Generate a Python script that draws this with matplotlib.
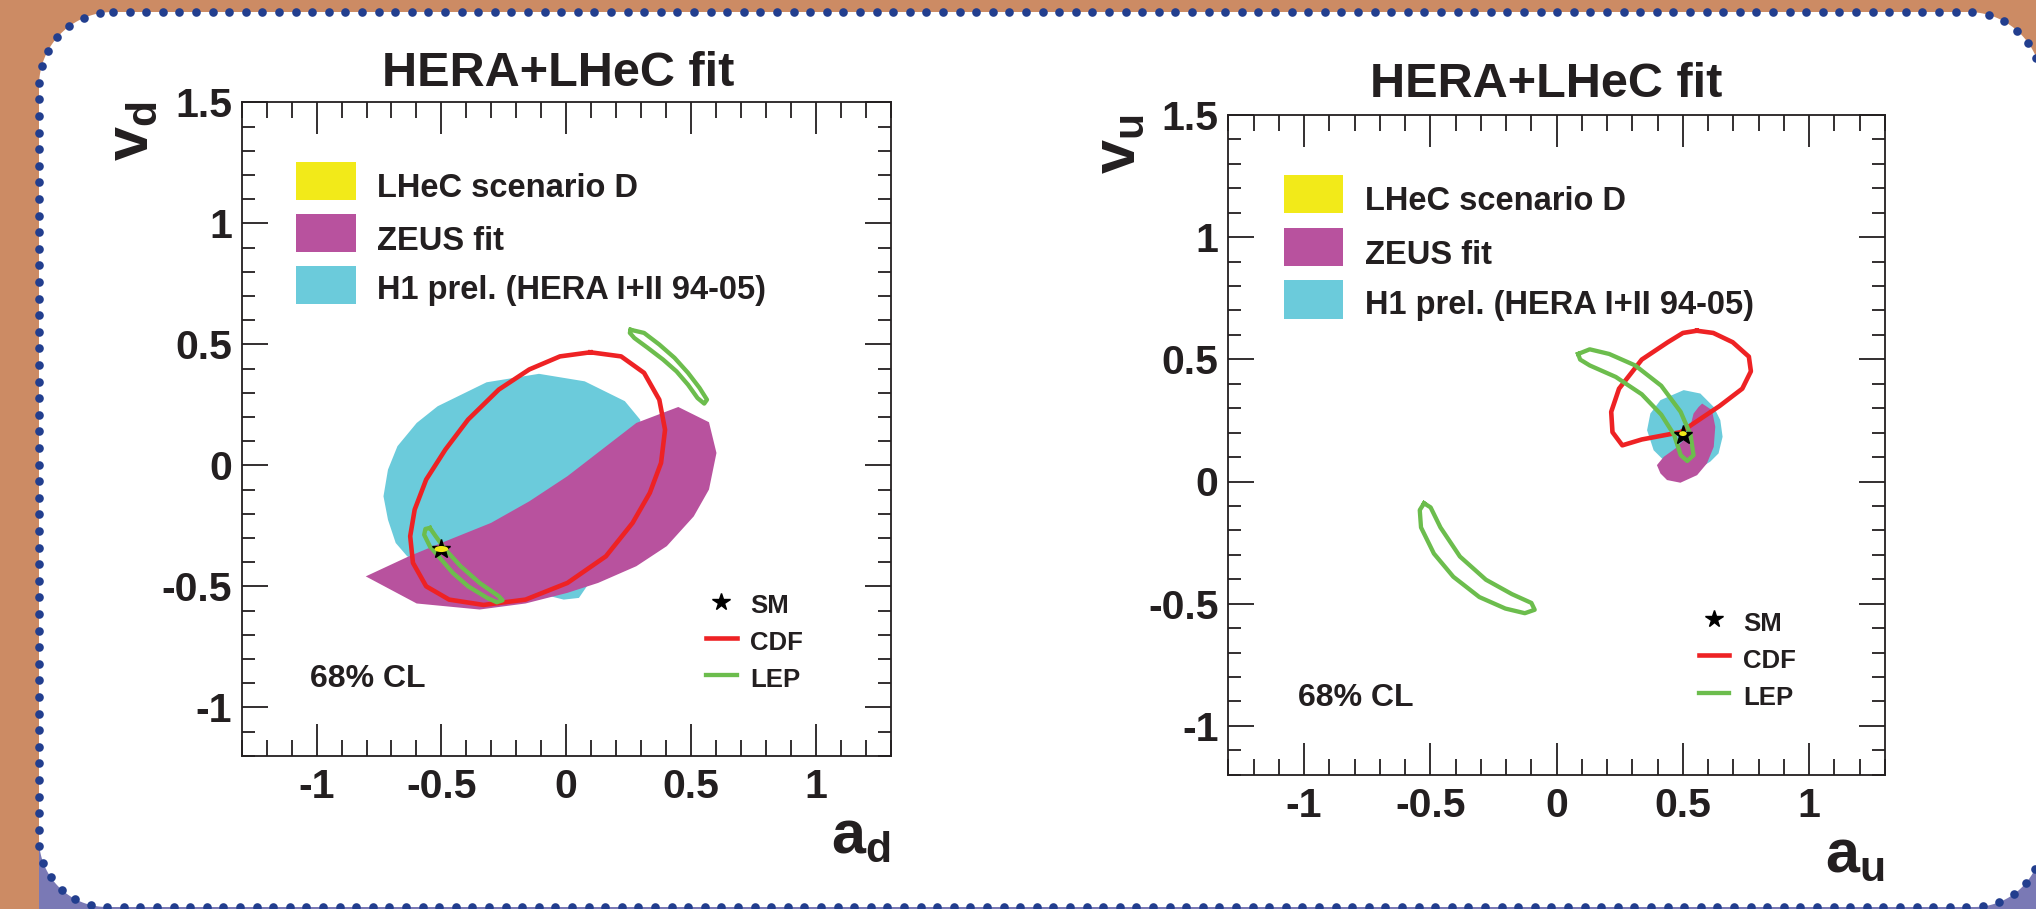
import matplotlib
matplotlib.use('Agg')
import matplotlib.pyplot as plt
from matplotlib.patches import Polygon, Rectangle, Ellipse
from matplotlib.lines import Line2D
from matplotlib.ticker import MultipleLocator, FixedLocator, FixedFormatter
from matplotlib.transforms import Affine2D
import numpy as np

plt.rcParams['font.family'] = ['Liberation Sans', 'DejaVu Sans']
plt.rcParams['font.weight'] = 'bold'
plt.rcParams['mathtext.fontset'] = 'custom'
plt.rcParams['mathtext.rm'] = 'Liberation Sans:bold'
plt.rcParams['mathtext.it'] = 'Liberation Sans:bold'
plt.rcParams['mathtext.bf'] = 'Liberation Sans:bold'

W, H = 2036, 909

# ---------------- data ----------------
titles = ["HERA+LHeC fit", "HERA+LHeC fit"]
xlabels = [r"$\mathrm{a_d}$", r"$\mathrm{a_u}$"]
ylabels = [r"$\mathrm{v_d}$", r"$\mathrm{v_u}$"]
legend_labels = ["LHeC scenario D", "ZEUS fit", "H1 prel. (HERA I+II 94-05)"]
small_labels = ["SM", "CDF", "LEP"]
cl_text = "68% CL"

xtick_vals = [-1, -0.5, 0, 0.5, 1]
xtick_labels = ["-1", "-0.5", "0", "0.5", "1"]
ytick_vals = [-1, -0.5, 0, 0.5, 1, 1.5]
ytick_labels = ["-1", "-0.5", "0", "0.5", "1", "1.5"]

# d-quark panel (a_d, v_d)
d_h1_x = [-0.319, -0.109, 0.074, 0.235, 0.296, 0.327, 0.220, 0.051, -0.010, -0.117,
          -0.393, -0.607, -0.637, -0.683, -0.714, -0.732, -0.714, -0.676, -0.599, -0.515]
d_h1_y = [0.343, 0.378, 0.347, 0.265, 0.189, -0.018, -0.293, -0.548, -0.555, -0.527,
          -0.431, -0.390, -0.376, -0.321, -0.225, -0.128, -0.018, 0.079, 0.175, 0.244]
d_zeus_x = [-0.803, -0.630, -0.484, -0.301, -0.148, 0.005, 0.143, 0.281, 0.449, 0.572,
            0.602, 0.572, 0.511, 0.403, 0.281, 0.128, 0.005, -0.163, -0.347, -0.599]
d_zeus_y = [-0.459, -0.376, -0.314, -0.238, -0.149, -0.045, 0.065, 0.175, 0.241, 0.178,
            0.051, -0.100, -0.211, -0.334, -0.417, -0.486, -0.527, -0.571, -0.596, -0.571]
d_cdf_x = [0.097, 0.220, 0.312, 0.373, 0.396, 0.380, 0.335, 0.266, 0.159, 0.005, -0.163,
           -0.331, -0.469, -0.561, -0.614, -0.625, -0.607, -0.561, -0.484, -0.393, -0.270,
           -0.148, -0.025]
d_cdf_y = [0.467, 0.450, 0.382, 0.271, 0.147, 0.010, -0.114, -0.238, -0.376, -0.486, -0.555,
           -0.577, -0.555, -0.500, -0.403, -0.293, -0.183, -0.059, 0.065, 0.189, 0.313,
           0.396, 0.450]
d_lep1_x = [0.258, 0.312, 0.373, 0.434, 0.488, 0.534, 0.564, 0.553, 0.526, 0.488, 0.442,
            0.388, 0.327, 0.273, 0.255]
d_lep1_y = [0.560, 0.547, 0.499, 0.444, 0.382, 0.320, 0.271, 0.255, 0.278, 0.333, 0.388,
            0.437, 0.485, 0.526, 0.547]
d_lep2_x = [-0.546, -0.523, -0.484, -0.423, -0.347, -0.270, -0.255, -0.278, -0.316, -0.393,
            -0.454, -0.500, -0.546, -0.569, -0.564]
d_lep2_y = [-0.259, -0.293, -0.348, -0.417, -0.486, -0.541, -0.558, -0.566, -0.548, -0.500,
            -0.445, -0.390, -0.335, -0.287, -0.263]
d_sm = (-0.5, -0.346)
d_lhec = (-0.50, -0.346, 0.055, 0.025)   # centre x, centre y, width, height

# u-quark panel (a_u, v_u)
u_h1_x = [0.358, 0.371, 0.411, 0.503, 0.569, 0.622, 0.648, 0.657, 0.641, 0.608, 0.529,
          0.424, 0.384]
u_h1_y = [0.210, 0.278, 0.333, 0.374, 0.360, 0.305, 0.251, 0.183, 0.115, 0.081, 0.033,
          0.087, 0.128]
u_zeus_x = [0.576, 0.615, 0.628, 0.622, 0.595, 0.556, 0.490, 0.437, 0.411, 0.397, 0.424,
            0.470, 0.503, 0.529, 0.542, 0.562]
u_zeus_y = [0.319, 0.292, 0.224, 0.142, 0.074, 0.026, -0.005, 0.006, 0.033, 0.067, 0.101,
            0.135, 0.169, 0.224, 0.278, 0.305]
u_cdf_x = [0.555, 0.620, 0.697, 0.761, 0.769, 0.735, 0.645, 0.491, 0.337, 0.260, 0.221,
           0.216, 0.247, 0.337, 0.440, 0.500]
u_cdf_y = [0.617, 0.608, 0.570, 0.511, 0.451, 0.380, 0.309, 0.202, 0.172, 0.148, 0.202,
           0.285, 0.380, 0.499, 0.570, 0.608]
u_lep1_x = [0.085, 0.131, 0.208, 0.311, 0.414, 0.491, 0.530, 0.542, 0.517, 0.491, 0.465,
            0.414, 0.337, 0.234, 0.131, 0.093]
u_lep1_y = [0.522, 0.541, 0.522, 0.475, 0.392, 0.285, 0.191, 0.108, 0.084, 0.108, 0.191,
            0.274, 0.357, 0.428, 0.475, 0.499]
u_lep2_x = [-0.525, -0.499, -0.460, -0.383, -0.280, -0.177, -0.100, -0.087, -0.126, -0.203,
            -0.306, -0.409, -0.486, -0.537, -0.542]
u_lep2_y = [-0.089, -0.106, -0.188, -0.307, -0.402, -0.461, -0.497, -0.525, -0.539, -0.520,
            -0.473, -0.390, -0.295, -0.188, -0.117]
u_sm = (0.5, 0.192)
u_lhec = (0.50, 0.196, 0.030, 0.020)

# ---------------- style ----------------
C_BG = '#CC8B64'
C_LAV = '#7A79B5'
C_DOT = '#223E8E'
C_TXT = '#231F20'
C_CYAN = '#6BCBDB'
C_MAG = '#B8529E'
C_YEL = '#F2EA19'
C_RED = '#EE2224'
C_GRN = '#6CBD4D'

fig = plt.figure(figsize=(W / 100, H / 100), dpi=100)
fig.patch.set_facecolor(C_BG)

# pixel transform (image coords, origin top-left)
pix = Affine2D().scale(1, -1).translate(0, H).scale(1.0 / W, 1.0 / H) + fig.transFigure

# decorative slide frame: white rounded box with dotted blue border
BX0, BY0, BX1, BY1, RT, RB = 39, 12, 2042, 907, 74, 68

def arc(cx, cy, r, a0, a1, n=40):
    t = np.radians(np.linspace(a0, a1, n))
    return np.column_stack([cx + r * np.cos(t), cy + r * np.sin(t)])

outline = np.vstack([
    [[BX0 + RT, BY0], [BX1 - RT, BY0]],
    arc(BX1 - RT, BY0 + RT, RT, -90, 0),
    [[BX1, BY1 - RB]],
    arc(BX1 - RB, BY1 - RB, RB, 0, 90),
    [[BX0 + RB, BY1]],
    arc(BX0 + RB, BY1 - RB, RB, 90, 180),
    [[BX0, BY0 + RT]],
    arc(BX0 + RT, BY0 + RT, RT, 180, 270),
])
seg = np.hypot(*np.diff(outline, axis=0).T)
cum = np.concatenate([[0], np.cumsum(seg)])
s_pts = np.arange(0, cum[-1], 16.6)
dots_x = np.interp(s_pts, cum, outline[:, 0])
dots_y = np.interp(s_pts, cum, outline[:, 1])

fig.add_artist(Rectangle((BX0, 780), W - BX0, 140, transform=pix, facecolor=C_LAV,
                         edgecolor='none', zorder=-3))
fig.add_artist(Polygon(outline, closed=True, transform=pix, facecolor='white',
                       edgecolor='none', zorder=-2))
fig.add_artist(Line2D(dots_x, dots_y, transform=pix, ls='none', marker='o', ms=6.2,
                      mfc=C_DOT, mec='none', zorder=-1))

panels = [
    dict(pos=[241.7, 102.3, 890.7, 755.7], h1=(d_h1_x, d_h1_y), zeus=(d_zeus_x, d_zeus_y),
         cdf=(d_cdf_x, d_cdf_y), leps=[(d_lep1_x, d_lep1_y), (d_lep2_x, d_lep2_y)],
         sm=d_sm, lhec=d_lhec, title_px=(558, 86), title=titles[0],
         xl=xlabels[0], yl=ylabels[0]),
    dict(pos=[1228.3, 115.0, 1885.0, 774.7], h1=(u_h1_x, u_h1_y), zeus=(u_zeus_x, u_zeus_y),
         cdf=(u_cdf_x, u_cdf_y), leps=[(u_lep1_x, u_lep1_y), (u_lep2_x, u_lep2_y)],
         sm=u_sm, lhec=u_lhec, title_px=(1546, 97), title=titles[1],
         xl=xlabels[1], yl=ylabels[1]),
]

def closed(xs, ys):
    return list(xs) + [xs[0]], list(ys) + [ys[0]]

for p in panels:
    x0, y0, x1, y1 = p['pos']
    ax = fig.add_axes([x0 / W, 1 - y1 / H, (x1 - x0) / W, (y1 - y0) / H])
    ax.set_zorder(1)
    ax.set_facecolor('white')
    ax.set_xlim(-1.3, 1.3)
    ax.set_ylim(-1.2, 1.5)
    for s in ax.spines.values():
        s.set_linewidth(1.3)
        s.set_color(C_TXT)
    ax.xaxis.set_major_locator(FixedLocator(xtick_vals))
    ax.xaxis.set_major_formatter(FixedFormatter(xtick_labels))
    ax.yaxis.set_major_locator(FixedLocator(ytick_vals))
    ax.yaxis.set_major_formatter(FixedFormatter(ytick_labels))
    ax.xaxis.set_minor_locator(MultipleLocator(0.1))
    ax.yaxis.set_minor_locator(MultipleLocator(0.1))
    ax.tick_params(axis='x', which='major', direction='in', length=23, width=1.3,
                   top=True, bottom=True, pad=9, labelsize=29.5, colors=C_TXT)
    ax.tick_params(axis='x', which='minor', direction='in', length=11.5, width=1.3,
                   top=True, bottom=True, colors=C_TXT)
    ax.tick_params(axis='y', which='major', direction='in', length=18.7, width=1.3,
                   left=True, right=True, pad=7, labelsize=29.5, colors=C_TXT)
    ax.tick_params(axis='y', which='minor', direction='in', length=9.4, width=1.3,
                   left=True, right=True, colors=C_TXT)
    for lab in ax.get_xticklabels() + ax.get_yticklabels():
        lab.set_fontweight('bold')

    ax.add_patch(Polygon(np.column_stack(p['h1']), closed=True, facecolor=C_CYAN,
                         edgecolor='none', zorder=1))
    ax.add_patch(Polygon(np.column_stack(p['zeus']), closed=True, facecolor=C_MAG,
                         edgecolor='none', zorder=2))
    cx, cy = closed(*p['cdf'])
    ax.plot(cx, cy, color=C_RED, lw=3.3, solid_joinstyle='round', zorder=3)
    for lx, ly in p['leps']:
        gx, gy = closed(lx, ly)
        ax.plot(gx, gy, color=C_GRN, lw=3.1, solid_joinstyle='round', zorder=4)
    ax.plot([p['sm'][0]], [p['sm'][1]], marker='*', ms=14, color='black', ls='none', zorder=5)
    ex, ey, ew, eh = p['lhec']
    ax.add_patch(Ellipse((ex, ey), ew, eh, facecolor=C_YEL, edgecolor='none', zorder=6))

    # big legend
    sw_centres = [1.176, 0.961, 0.745]
    baselines = [1.110, 0.890, 0.686]
    cols = [C_YEL, C_MAG, C_CYAN]
    for yc, yb, col, lab in zip(sw_centres, baselines, cols, legend_labels):
        ax.add_patch(Rectangle((-1.081, yc - 0.078), 0.237, 0.156, facecolor=col,
                               edgecolor='none', zorder=7))
        ax.text(-0.758, yb, lab, fontsize=23.5, fontweight='bold', color=C_TXT,
                va='baseline', ha='left', zorder=7)
    # small legend
    ax.plot([0.622], [-0.563], marker='*', ms=13, color='black', ls='none', zorder=7)
    ax.plot([0.562, 0.684], [-0.712, -0.712], color=C_RED, lw=3.3, zorder=7)
    ax.plot([0.562, 0.684], [-0.867, -0.867], color=C_GRN, lw=3.1, zorder=7)
    for yb, lab in zip([-0.610, -0.763, -0.915], small_labels):
        ax.text(0.738, yb, lab, fontsize=18.5, fontweight='bold', color=C_TXT,
                va='baseline', ha='left', zorder=7)
    ax.text(-1.025, -0.918, cl_text, fontsize=23, fontweight='bold', color=C_TXT,
            va='baseline', ha='left', zorder=7)

    # title and axis labels (pixel placement)
    tx, ty = p['title_px']
    fig.text(tx / W, 1 - ty / H, p['title'], fontsize=35, fontweight='bold', color=C_TXT,
             ha='center', va='baseline')
    fig.text(x1 / W, 1 - (y1 + 97) / H, p['xl'], fontsize=44, color=C_TXT,
             ha='right', va='baseline')
    fig.text((x0 - 94) / W, 1 - (y0 - 1) / H, p['yl'], fontsize=44, color=C_TXT,
             ha='right', va='baseline', rotation=90, rotation_mode='anchor')

fig.savefig('out.png', dpi=100, facecolor=fig.get_facecolor())
